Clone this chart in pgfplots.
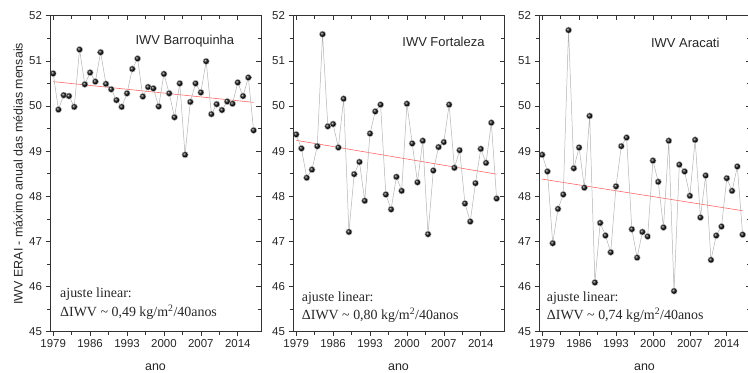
\documentclass[border=0pt]{standalone}
\usepackage{fontspec}
\setmainfont{Liberation Sans}
\newfontfamily\seriffont{Liberation Serif}
\usepackage{pgfplots}
\pgfplotsset{compat=1.18}

\pgfplotsset{
  common/.style={
    scale only axis, width=211bp, height=316bp, anchor=south west,
    xmin=1978.4, xmax=2018.4, ymin=45, ymax=52,
    xtick={1979,1986,1993,2000,2007,2014}, ytick={45,46,...,52},
    minor x tick num=1, minor y tick num=1,
    axis line style={black!80, line width=0.6bp},
    every tick/.style={black!80, line width=0.6bp},
    major tick length=4.5bp, minor tick length=3bp,
  },
  panel/.style={
    common,
    tick align=outside, xtick pos=left, ytick pos=left,
    tick label style={font=\fontsize{11.5}{13}\selectfont, text=black!85},
    /pgf/number format/assume math mode=true,
    /pgf/number format/set thousands separator={},
    xlabel={ano},
    xlabel style={at={(axis description cs:0.5,0)}, anchor=base, yshift=-39bp, font=\fontsize{12.5}{14}\selectfont, text=black!85},
    clip=false,
  },
  mirror/.style={
    common,
    tick align=inside, xtick pos=right, ytick pos=right,
    xticklabels={}, yticklabels={},
  },
}
\tikzset{
  data/.style={color=gray!60, line width=0.5bp, mark=ball, mark size=3.1bp, mark options={ball color=black!95}},
  fit/.style={color=red!60, line width=0.6bp},
  ttl/.style={anchor=east, font=\fontsize{13}{15}\selectfont, text=black!85},
  note/.style={anchor=base west, font=\seriffont\fontsize{14}{17}\selectfont, text=black!85, inner sep=0pt},
}

\begin{document}
\begin{tikzpicture}
\useasboundingbox (0,0) rectangle (748bp,373bp);

% ---------- Panel 1: Barroquinha ----------
\begin{axis}[panel, at={(50bp,41.3bp)}]
\addplot[fit] coordinates {(1979,50.54) (2017,50.08)};
\addplot[data] coordinates {
(1979,50.72) (1980,49.92) (1981,50.24) (1982,50.22) (1983,49.98) (1984,51.25)
(1985,50.48) (1986,50.74) (1987,50.54) (1988,51.19) (1989,50.49) (1990,50.37)
(1991,50.13) (1992,49.98) (1993,50.28) (1994,50.82) (1995,51.05) (1996,50.21)
(1997,50.42) (1998,50.39) (1999,49.99) (2000,50.71) (2001,50.28) (2002,49.75)
(2003,50.50) (2004,48.92) (2005,50.09) (2006,50.50) (2007,50.30) (2008,50.99)
(2009,49.82) (2010,50.04) (2011,49.91) (2012,50.10) (2013,50.05) (2014,50.52)
(2015,50.22) (2016,50.63) (2017,49.46)};
\node[ttl, xshift=-23.3bp, yshift=-25.3bp] at (rel axis cs:1,1) {IWV Barroquinha};
\node[note, xshift=10bp, yshift=34bp] at (rel axis cs:0,0) {ajuste linear:};
\node[note, xshift=10bp, yshift=15.4bp] at (rel axis cs:0,0) {ΔIWV \textasciitilde{} 0,49 kg/m\textsuperscript{2}/40anos};
\end{axis}
\begin{axis}[mirror, at={(50bp,41.3bp)}]
\end{axis}

% ---------- Panel 2: Fortaleza ----------
\begin{axis}[panel, at={(293bp,41.3bp)}]
\addplot[fit] coordinates {(1979,49.24) (2017,48.49)};
\addplot[data] coordinates {
(1979,49.37) (1980,49.06) (1981,48.41) (1982,48.59) (1983,49.11) (1984,51.59)
(1985,49.55) (1986,49.60) (1987,49.08) (1988,50.16) (1989,47.21) (1990,48.49)
(1991,48.76) (1992,47.90) (1993,49.39) (1994,49.88) (1995,50.03) (1996,48.04)
(1997,47.71) (1998,48.43) (1999,48.12) (2000,50.05) (2001,49.17) (2002,48.31)
(2003,49.23) (2004,47.16) (2005,48.57) (2006,49.09) (2007,49.20) (2008,50.03)
(2009,48.63) (2010,49.02) (2011,47.84) (2012,47.44) (2013,48.29) (2014,49.05)
(2015,48.74) (2016,49.63) (2017,47.95)};
\node[ttl, xshift=-16bp, yshift=-26bp] at (rel axis cs:1,1) {IWV Fortaleza};
\node[note, xshift=8.7bp, yshift=30.7bp] at (rel axis cs:0,0) {ajuste linear:};
\node[note, xshift=8.7bp, yshift=12.4bp] at (rel axis cs:0,0) {ΔIWV \textasciitilde{} 0,80 kg/m\textsuperscript{2}/40anos};
\end{axis}
\begin{axis}[mirror, at={(293bp,41.3bp)}]
\end{axis}

% ---------- Panel 3: Aracati ----------
\begin{axis}[panel, at={(539bp,41.3bp)}]
\addplot[fit] coordinates {(1979,48.38) (2017,47.68)};
\addplot[data] coordinates {
(1979,48.92) (1980,48.55) (1981,46.96) (1982,47.72) (1983,48.04) (1984,51.68)
(1985,48.62) (1986,49.08) (1987,48.19) (1988,49.78) (1989,46.09) (1990,47.41)
(1991,47.13) (1992,46.76) (1993,48.22) (1994,49.11) (1995,49.30) (1996,47.27)
(1997,46.64) (1998,47.21) (1999,47.11) (2000,48.79) (2001,48.32) (2002,47.31)
(2003,49.23) (2004,45.90) (2005,48.70) (2006,48.55) (2007,48.01) (2008,49.25)
(2009,47.53) (2010,48.46) (2011,46.59) (2012,47.13) (2013,47.33) (2014,48.40)
(2015,48.12) (2016,48.66) (2017,47.15)};
\node[ttl, xshift=-27bp, yshift=-27.6bp] at (rel axis cs:1,1) {IWV Aracati};
\node[note, xshift=7.7bp, yshift=30.7bp] at (rel axis cs:0,0) {ajuste linear:};
\node[note, xshift=7.7bp, yshift=12.4bp] at (rel axis cs:0,0) {ΔIWV \textasciitilde{} 0,74 kg/m\textsuperscript{2}/40anos};
\end{axis}
\begin{axis}[mirror, at={(539bp,41.3bp)}]
\end{axis}

\node[rotate=90, font=\fontsize{12.5}{14}\selectfont, text=black!85] at (18bp,199.3bp) {IWV ERAI - máximo anual das médias mensais};
\end{tikzpicture}
\end{document}
